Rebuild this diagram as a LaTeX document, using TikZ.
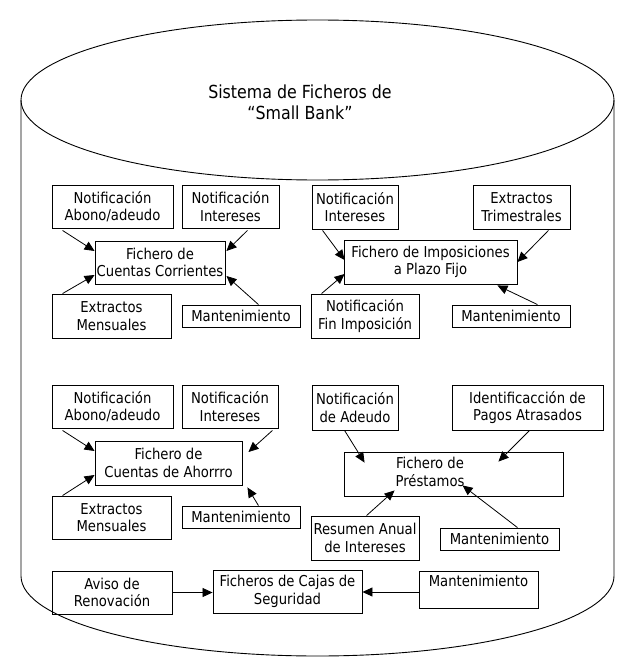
\documentclass[tikz,border=0pt]{standalone}
\usepackage{fontspec}
\setmainfont{DejaVu Sans}[FakeStretch=0.88]
\usetikzlibrary{arrows.meta}
\tikzset{
  box/.style={draw, line width=0.9pt, inner sep=0pt, align=center, font=\fontsize{15}{17.5}\selectfont},
  txt/.style={inner sep=0pt, align=center, font=\fontsize{15}{17.5}\selectfont},
  conn/.style={line width=0.8pt, -{Triangle[length=10pt,width=9pt]}},
  cyl/.style={line width=0.9pt}
}
\begin{document}
\begin{tikzpicture}[x=1pt,y=-1pt]
\useasboundingbox (0,0) rectangle (636,661);
% cylinder
\draw[cyl] (317.5,100) ellipse [x radius=296.5, y radius=80];
\draw[cyl] (21,100) -- (21,576) .. controls (21,620.2) and (153.7,656) .. (317.5,656)
  .. controls (481.3,656) and (614,620.2) .. (614,576) -- (614,100);
\node[inner sep=0pt, align=center, font=\fontsize{18}{21}\selectfont] (title) at (300,102) {Sistema de Ficheros de\\“Small Bank”};

% block 1
\node[box, minimum width=121, minimum height=43] (a1) at (112.5,206.5) {Notificación\\Abono/adeudo};
\node[box, minimum width=97, minimum height=43] (a2) at (230.5,206.5) {Notificación\\Intereses};
\node[box, minimum width=130, minimum height=43] (c1) at (160,262.5) {Fichero de\\Cuentas Corrientes};
\node[box, minimum width=119, minimum height=44] (a3) at (111.5,316) {Extractos\\Mensuales};
\node[box, minimum width=118, minimum height=22] (a4) at (241,316) {Mantenimiento};

% block 2
\node[box, minimum width=86, minimum height=44] (b1) at (355,207) {Notificación\\Intereses};
\node[box, minimum width=97, minimum height=44] (b2) at (521.5,207) {Extractos\\Trimestrales};
\node[box, minimum width=173, minimum height=44] (c2) at (430.5,262) {Fichero de Imposiciones\\a Plazo Fijo};
\node[box, minimum width=108, minimum height=44] (b3) at (365,316) {Notificación\\Fin Imposición};
\node[box, minimum width=118, minimum height=22] (b4) at (511,316) {Mantenimiento};

% block 3
\node[box, minimum width=121, minimum height=43] (d1) at (112.5,406.5) {Notificación\\Abono/adeudo};
\node[box, minimum width=96, minimum height=43] (d2) at (230,406.5) {Notificación\\Intereses};
\node[box, minimum width=147, minimum height=44] (c3) at (168.5,463) {Fichero de\\Cuentas de Ahorrro};
\node[box, minimum width=119, minimum height=43] (d3) at (111.5,517.5) {Extractos\\Mensuales};
\node[box, minimum width=118, minimum height=22] (d4) at (241,517) {Mantenimiento};

% block 4
\node[box, minimum width=86, minimum height=45] (e1) at (355,407.5) {Notificación\\de Adeudo};
\node[box, minimum width=151, minimum height=45] (e2) at (527.5,407.5) {Identificacción de\\Pagos Atrasados};
\node[box, minimum width=219, minimum height=44] (c4) at (453.5,474) {};
\node[txt] (c4t) at (430,472) {Fichero de\\Préstamos};
\node[box, minimum width=108, minimum height=44] (e3) at (365,538) {Resumen Anual\\de Intereses};
\node[box, minimum width=119, minimum height=22] (e4) at (499.5,539) {Mantenimiento};

% block 5
\node[box, minimum width=120, minimum height=43] (f1) at (112,592.5) {Aviso de\\Renovación};
\node[box, minimum width=149, minimum height=43] (f2) at (287.5,591.5) {Ficheros de Cajas de\\Seguridad};
\node[box, minimum width=119, minimum height=37] (f3) at (478.5,589.5) {};
\node[txt] (f3t) at (478.5,581) {Mantenimiento};

% connectors
\draw[conn] ([shift={(11,2)}]a1.south west) -- ([shift={(0,-11.5)}]c1.west);
\draw[conn] ([shift={(-32,2)}]a2.south east) -- ([shift={(1,-11.5)}]c1.east);
\draw[conn] ([shift={(11,0)}]a3.north west) -- ([shift={(0,12.5)}]c1.west);
\draw[conn] ([shift={(-42,0)}]a4.north east) -- ([shift={(1,13.5)}]c1.east);

\draw[conn] ([shift={(11,1)}]b1.south west) -- ([shift={(1,-2)}]c2.west);
\draw[conn] ([shift={(-22,1)}]b2.south east) -- (c2.east);
\draw[conn] ([shift={(11,0)}]b3.north west) -- ([shift={(1,12)}]c2.west);
\draw[conn] ([shift={(-33,0)}]b4.north east) -- ([shift={(-20,1)}]c2.south east);

\draw[conn] ([shift={(11,2)}]d1.south west) -- ([shift={(0,-12)}]c3.west);
\draw[conn] ([shift={(-6,2)}]d2.south east) -- ([shift={(6,-11)}]c3.east);
\draw[conn] ([shift={(11,0)}]d3.north west) -- ([shift={(0,12)}]c3.west);
\draw[conn] ([shift={(-42,0)}]d4.north east) -- ([shift={(5,2)}]c3.south east);

\draw[conn] ([shift={(33,0)}]e1.south west) -- ([shift={(21,11)}]c4.north west);
\draw[conn] ([shift={(78,0)}]e2.south west) -- ([shift={(-65,10)}]c4.north east);
\draw[conn] ([shift={(56,0)}]e3.north west) -- ([shift={(51,-6)}]c4.south west);
\draw[conn] ([shift={(-42,0)}]e4.north east) -- ([shift={(119,-11)}]c4.south west);

\draw[conn] (f1.east) -- (f1.east -| f2.west);
\draw[conn] ([shift={(0,2.5)}]f3.west) -- ([shift={(0,2.5)}]f3.west -| f2.east);
\end{tikzpicture}
\end{document}
